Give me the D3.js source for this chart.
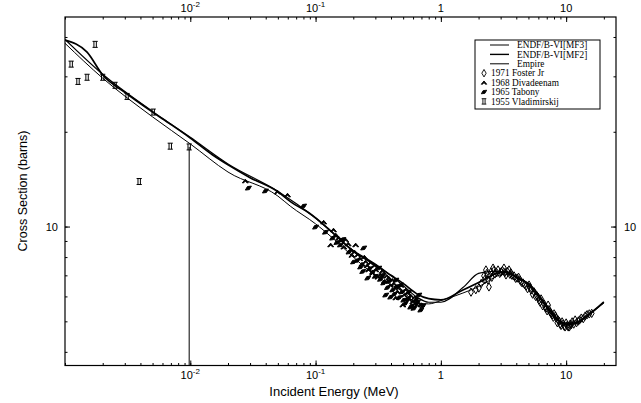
<!DOCTYPE html>
<html>
<head>
<meta charset="utf-8" />
<script src="https://cdn.jsdelivr.net/npm/d3@7"></script>
<style>
    body { margin: 0; background: #fff; }
    svg { font-family: "Liberation Sans", Arial, sans-serif; }
    .axis path, .axis line { stroke: #000; }
    .legend text { font-family: "Liberation Serif", "Times New Roman", serif; font-size: 9.3px; }
</style>
</head>
<body>
<script>
// evaluated curves (energy in MeV, cross section in barns)
var mf3Energy = [0.001, 0.002, 0.005, 0.01, 0.02, 0.05, 0.063, 0.1, 0.15, 0.2, 0.3, 0.5, 0.65, 0.8, 1.0, 1.5, 2.2, 2.8, 3.4, 4.2, 5.0, 6.3, 8.0, 9.6, 11.6, 15, 20];
var mf3Xs = [38.2, 29.6, 22.3, 18.3, 14.9, 12.5, 11.6, 10.2, 8.9, 8.0, 7.0, 6.2, 5.72, 5.68, 5.82, 6.15, 6.57, 6.96, 7.06, 6.85, 6.5, 5.85, 5.2, 4.91, 4.94, 5.27, 5.72];

var mf2Energy = [0.001, 0.0015, 0.002, 0.003, 0.005, 0.007, 0.01, 0.015, 0.02, 0.03, 0.05, 0.063, 0.09, 0.13, 0.2, 0.3, 0.4, 0.5, 0.65, 0.8, 1.0, 1.5, 2.2, 2.8, 3.4, 4.2, 5.0, 6.3, 8.0, 9.6, 11.6, 15, 20];
var mf2Xs = [39.1, 35.8, 30.3, 26.7, 23.1, 21.1, 19.1, 16.9, 15.7, 14.3, 12.9, 12.0, 11.0, 9.75, 8.35, 7.55, 7.0, 6.6, 6.1, 5.9, 5.85, 6.29, 6.77, 7.1, 7.17, 6.8, 6.6, 5.93, 5.24, 4.94, 4.94, 5.24, 5.76];

var empireEnergy = [0.001, 0.002, 0.005, 0.01, 0.02, 0.05, 0.1, 0.2, 0.3, 0.5, 0.65, 0.8, 1.0, 1.5, 2.0, 2.5, 3.0, 4.0, 5.0, 6.3, 8.0, 10, 12, 15, 20];
var empireXs = [39.3, 30.45, 23.2, 19.2, 15.8, 12.95, 10.65, 8.4, 7.6, 6.5, 5.95, 5.75, 5.75, 6.4, 7.1, 7.2, 7.2, 6.95, 6.55, 5.85, 5.15, 4.88, 4.92, 5.22, 5.74];

// measurements
var fosterEnergy = [1.74, 2.01, 2.21, 2.29, 2.38, 2.42, 2.51, 2.61, 2.70, 2.86, 3.02, 3.19, 3.31, 3.50, 3.63, 3.84, 4.06, 4.29, 4.53, 4.79, 5.06, 5.25, 5.55, 5.86, 6.08, 6.31, 6.67, 6.92, 7.18, 7.45, 7.73, 8.02, 8.32, 8.63, 8.95, 9.29, 9.64, 10.0, 10.38, 10.77, 11.17, 11.8, 12.5, 13.2, 14.2, 15.3,
    1.9, 2.1, 2.25, 2.33, 2.45, 2.55, 2.65, 2.78, 2.95, 3.1, 3.25, 3.4, 3.56, 3.7, 3.95, 4.17, 4.4, 4.65, 4.92, 5.15, 5.4, 5.7, 5.98, 6.2, 6.5, 6.8, 7.05, 7.3, 7.6, 7.9, 8.2, 8.5, 8.8, 9.1, 9.45, 9.8, 10.2, 10.6, 11.0, 11.5, 12.1, 12.8, 13.7, 14.7, 16.0];
var fosterXs = [6.19, 6.38, 6.97, 7.28, 6.76, 6.43, 7.17, 7.38, 7.07, 7.28, 7.17, 7.38, 7.02, 7.28, 7.12, 6.97, 6.86, 6.76, 6.62, 6.47, 6.52, 6.29, 6.20, 6.02, 5.84, 5.89, 5.68, 5.51, 5.63, 5.35, 5.24, 5.28, 5.12, 5.05, 4.90, 4.98, 4.83, 4.94, 4.80, 4.90, 4.98, 5.05, 5.01, 5.12, 5.20, 5.28,
    6.3, 6.6, 6.8, 7.1, 7.0, 6.9, 7.25, 7.15, 7.1, 7.25, 7.15, 7.2, 7.05, 7.0, 6.85, 6.9, 6.65, 6.55, 6.35, 6.4, 6.1, 6.0, 5.95, 5.75, 5.6, 5.55, 5.4, 5.45, 5.3, 5.15, 5.2, 4.95, 5.0, 4.85, 4.9, 4.8, 4.85, 4.8, 4.88, 4.9, 4.95, 5.05, 5.1, 5.25, 5.3];

var divadeenamEnergy = [0.0275, 0.0497, 0.0597, 0.116, 0.132, 0.139, 0.153, 0.174, 0.191, 0.209, 0.217, 0.251, 0.265, 0.275, 0.302, 0.331, 0.384, 0.421, 0.437, 0.461, 0.497, 0.525, 0.575, 0.597, 0.643,
    0.145, 0.16, 0.168, 0.182, 0.195, 0.205, 0.225, 0.235, 0.245, 0.258, 0.285, 0.295, 0.315, 0.34, 0.355, 0.37, 0.395, 0.41, 0.45, 0.48, 0.51, 0.54, 0.56, 0.62, 0.66, 0.7];
var divadeenamXs = [13.95, 12.87, 12.59, 10.33, 8.74, 9.75, 9.19, 9.06, 8.42, 8.74, 8.12, 7.72, 7.28, 7.66, 7.28, 7.02, 6.86, 6.57, 5.93, 6.38, 5.63, 6.29, 6.02, 5.76, 5.63,
    9.4, 9.0, 8.6, 8.8, 8.1, 8.3, 7.9, 7.6, 8.0, 7.5, 7.1, 7.5, 6.9, 7.2, 6.7, 6.95, 6.5, 6.75, 6.2, 6.5, 6.05, 6.15, 5.85, 5.95, 5.7, 5.65];

var tabonyEnergy = [0.0291, 0.0398, 0.0802, 0.100, 0.137, 0.158, 0.201, 0.229, 0.242, 0.261, 0.286, 0.319, 0.350, 0.363, 0.398, 0.413, 0.437, 0.479, 0.506, 0.555, 0.575, 0.631, 0.667, 0.692,
    0.12, 0.148, 0.165, 0.185, 0.215, 0.238, 0.27, 0.3, 0.33, 0.345, 0.375, 0.385, 0.425, 0.445, 0.465, 0.49, 0.52, 0.545, 0.585, 0.61, 0.65, 0.72];
var tabonyXs = [13.25, 12.97, 11.62, 9.96, 9.19, 8.74, 7.72, 7.44, 8.55, 6.86, 7.17, 7.38, 6.62, 6.06, 5.97, 6.29, 6.76, 6.52, 5.84, 6.19, 5.55, 5.84, 6.06, 5.43,
    9.6, 8.9, 9.1, 8.3, 7.8, 7.2, 7.35, 6.95, 6.8, 7.0, 6.4, 6.7, 6.1, 6.45, 5.95, 6.2, 5.7, 5.9, 5.6, 5.5, 5.75, 5.6];

var vladEnergy = [0.00112, 0.00127, 0.0015, 0.00174, 0.002, 0.00251, 0.00313, 0.00391, 0.00506, 0.00692, 0.0098];
var vladXs = [32.8, 28.9, 29.8, 37.9, 29.8, 28.1, 25.9, 13.9, 23.1, 18.0, 17.9];
// only one error bar is visible (lower end runs off the plot)
var vladErrEnergy = [0.0098];
var vladErrHigh = [17.9];
var vladErrLow = [3.0];

var xTickValues = [0.01, 0.1, 1, 10];
var xTickLabels = [["10", "-2"], ["10", "-1"], ["1", ""], ["10", ""]];
var yTickValues = [10];
var yTickLabels = ["10"];

var legendNames = ["ENDF/B-VI[MF3]", "ENDF/B-VI[MF2]", "Empire", "1971 Foster Jr", "1968 Divadeenam", "1965 Tabony", "1955 Vladimirskij"];

(function () {
    var width = 641, height = 403;
    var mLeft = 65, mRight = 616, mTop = 17, mBottom = 365.5;

    var svg = d3.select("body").append("svg")
        .attr("width", width)
        .attr("height", height);

    var x = d3.scaleLog().domain([0.001, 25]).range([mLeft, mRight]);
    var y = d3.scaleLog().domain([3.62, 46.3]).range([mBottom, mTop]);

    function minorTicks(lo, hi) {
        var out = [];
        for (var e = Math.floor(Math.log10(lo)); e <= Math.ceil(Math.log10(hi)); e++) {
            for (var k = 1; k < 10; k++) {
                var v = k * Math.pow(10, e);
                if (v >= lo && v <= hi) out.push(v);
            }
        }
        return out;
    }
    var xMinor = minorTicks(0.001, 25);
    var yMinor = minorTicks(3.62, 46.3);

    // frame
    svg.append("rect")
        .attr("x", mLeft).attr("y", mTop)
        .attr("width", mRight - mLeft).attr("height", mBottom - mTop)
        .attr("fill", "none").attr("stroke", "#000").attr("stroke-width", 1.2);

    // ticks on all four sides, pointing inward
    function addAxis(axis, tx, ty) {
        var g = svg.append("g").attr("class", "axis")
            .attr("transform", "translate(" + tx + "," + ty + ")")
            .call(axis);
        g.select(".domain").remove();
        g.selectAll("text").remove();
        return g;
    }
    addAxis(d3.axisBottom(x).tickValues(xMinor).tickSize(-2.5).tickFormat(""), 0, mBottom);
    addAxis(d3.axisTop(x).tickValues(xMinor).tickSize(-2.5).tickFormat(""), 0, mTop);
    addAxis(d3.axisBottom(x).tickValues(xTickValues).tickSize(-5).tickFormat(""), 0, mBottom);
    addAxis(d3.axisTop(x).tickValues(xTickValues).tickSize(-5).tickFormat(""), 0, mTop);
    addAxis(d3.axisLeft(y).tickValues(yMinor).tickSize(-2.5).tickFormat(""), mLeft, 0);
    addAxis(d3.axisRight(y).tickValues(yMinor).tickSize(-2.5).tickFormat(""), mRight, 0);
    addAxis(d3.axisLeft(y).tickValues(yTickValues).tickSize(-5).tickFormat(""), mLeft, 0);
    addAxis(d3.axisRight(y).tickValues(yTickValues).tickSize(-5).tickFormat(""), mRight, 0);

    // tick labels with superscripts
    [mBottom + 13, mTop - 5].forEach(function (ly) {
        xTickValues.forEach(function (v, i) {
            var t = svg.append("text")
                .attr("x", x(v)).attr("y", ly)
                .attr("text-anchor", "middle")
                .attr("font-size", 11);
            t.append("tspan").text(xTickLabels[i][0]);
            if (xTickLabels[i][1]) {
                t.append("tspan").attr("font-size", 8).attr("dy", -5).text(xTickLabels[i][1]);
            }
        });
    });
    yTickValues.forEach(function (v, i) {
        svg.append("text").attr("x", mLeft - 7).attr("y", y(v) + 4)
            .attr("text-anchor", "end").attr("font-size", 11).text(yTickLabels[i]);
        svg.append("text").attr("x", mRight + 8).attr("y", y(v) + 4)
            .attr("text-anchor", "start").attr("font-size", 11).text(yTickLabels[i]);
    });

    // axis titles
    svg.append("text")
        .attr("x", 334).attr("y", 396)
        .attr("text-anchor", "middle").attr("font-size", 13)
        .text("Incident Energy (MeV)");
    svg.append("text")
        .attr("transform", "translate(27,191) rotate(-90)")
        .attr("text-anchor", "middle").attr("font-size", 12.5)
        .text("Cross Section (barns)");

    svg.append("clipPath").attr("id", "plotclip")
        .append("rect").attr("x", mLeft).attr("y", mTop)
        .attr("width", mRight - mLeft).attr("height", mBottom - mTop);

    var plot = svg.append("g").attr("clip-path", "url(#plotclip)");

    function pairs(ex, ys) {
        return ex.map(function (e, i) { return [e, ys[i]]; });
    }
    var line = d3.line()
        .x(function (d) { return x(d[0]); })
        .y(function (d) { return y(d[1]); })
        .curve(d3.curveMonotoneX);

    // marker shapes
    var markers = {
        foster: d3.symbol().type(d3.symbolDiamond).size(20)(),
        divadeenam: "M-3,1.8L0,-1.8L3,1.8L1.6,1.8L0,0L-1.6,1.8Z",
        tabony: "M-3,2L-1,-1.5L3,-2L1,1.5Z",
        vlad: "M-2.6,-3H2.6M-2.6,3H2.6M-1.2,-3V3M1.2,-3V3"
    };

    vladErrEnergy.forEach(function (e, i) {
        plot.append("line")
            .attr("x1", x(e)).attr("x2", x(e))
            .attr("y1", y(vladErrHigh[i])).attr("y2", y(vladErrLow[i]))
            .attr("stroke", "#000").attr("stroke-width", 1);
    });

    function drawPoints(ex, ys, path, filled) {
        plot.append("g").selectAll("path").data(pairs(ex, ys)).enter()
            .append("path")
            .attr("transform", function (d) { return "translate(" + x(d[0]) + "," + y(d[1]) + ")"; })
            .attr("d", path)
            .attr("fill", filled ? "#000" : "none")
            .attr("stroke", "#000").attr("stroke-width", 1);
    }
    drawPoints(fosterEnergy, fosterXs, markers.foster, false);
    drawPoints(divadeenamEnergy, divadeenamXs, markers.divadeenam, true);
    drawPoints(tabonyEnergy, tabonyXs, markers.tabony, true);
    drawPoints(vladEnergy, vladXs, markers.vlad, false);

    plot.append("path").datum(pairs(mf3Energy, mf3Xs))
        .attr("d", line).attr("fill", "none").attr("stroke", "#000").attr("stroke-width", 1);
    plot.append("path").datum(pairs(mf2Energy, mf2Xs))
        .attr("d", line).attr("fill", "none").attr("stroke", "#000").attr("stroke-width", 1.7);
    plot.append("path").datum(pairs(empireEnergy, empireXs))
        .attr("d", line).attr("fill", "none").attr("stroke", "#000").attr("stroke-width", 1.2);

    // legend
    var legend = svg.append("g").attr("class", "legend");
    legend.append("rect")
        .attr("x", 475).attr("y", 40).attr("width", 125).attr("height", 69)
        .attr("fill", "#fff").attr("stroke", "#000").attr("stroke-width", 1);
    var legendKinds = ["line1", "line2", "line3", "foster", "divadeenam", "tabony", "vlad"];
    legendNames.forEach(function (name, i) {
        var ry = 45 + i * 9.4;
        var kind = legendKinds[i];
        if (kind.indexOf("line") === 0) {
            legend.append("line")
                .attr("x1", 490).attr("x2", 509).attr("y1", ry).attr("y2", ry)
                .attr("stroke", "#000").attr("stroke-width", i === 1 ? 1.4 : 1);
            legend.append("text").attr("x", 517).attr("y", ry + 3.2).text(name);
        } else {
            legend.append("path")
                .attr("transform", "translate(484," + ry + ") scale(0.9)")
                .attr("d", markers[kind])
                .attr("fill", (kind === "divadeenam" || kind === "tabony") ? "#000" : "none")
                .attr("stroke", "#000").attr("stroke-width", 1);
            legend.append("text").attr("x", 491).attr("y", ry + 3.2).text(name);
        }
    });
})();
</script>
</body>
</html>
